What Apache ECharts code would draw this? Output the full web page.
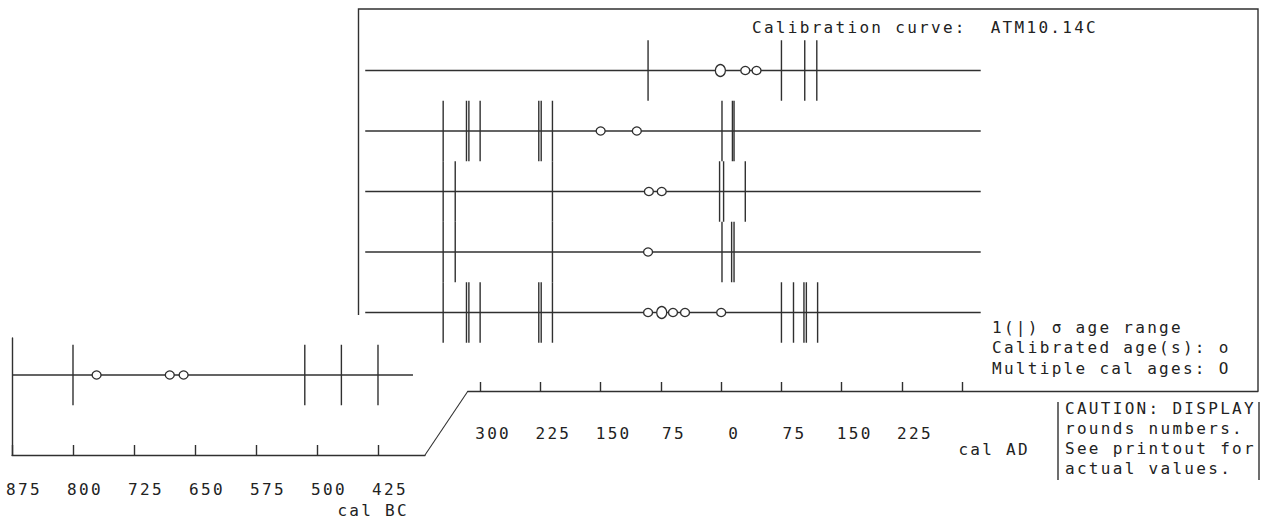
<!DOCTYPE html>
<html>
<head>
<meta charset="utf-8">
<style>
  html, body { margin: 0; padding: 0; background: #ffffff; }
  #chart { width: 1262px; height: 520px; }
  /* plotter-style wide character pitch */
  #chart text { letter-spacing: 2.3px; white-space: pre; }
</style>
<script src="https://cdn.jsdelivr.net/npm/echarts@6/dist/echarts.min.js"></script>
</head>
<body>
<div id="chart"></div>
<script>
// Sample labels: five rows on the main scale (top to bottom) and one older sample
const mainSamples = ['1034', '7463', '7462', '7461', '7460'];
const oldSample = '1035';

// Boundaries of the 1-sigma calibrated age ranges (signed years, BC negative)
const ranges1034 = [-91, 75, 104, 119];
const ranges7463 = [-346, -317, -314, -300, -227, -224, -210, 1, 14, 16];
const ranges7462 = [-346, -331, -210, -2, 3, 30];
const ranges7461 = [-346, -331, -210, 1, 13, 16];
const ranges7460 = [-346, -317, -314, -300, -227, -224, -210, 75, 90, 103, 106, 120];
const ranges1035 = [-800, -515, -470, -425];

// Calibrated ages (curve intercepts)
const ages1034 = [30, 44];
const ages7463 = [-150, -105];
const ages7462 = [-90, -74];
const ages7461 = [-91];
const ages7460 = [-91, -60, -45, 0];
const ages1035 = [-771, -681, -664];

// Multiple calibrated ages at one point
const multi1034 = [-1];
const multi7460 = [-74];

// Tick positions (signed years)
const mainTicks = [-300, -225, -150, -75, 0, 75, 150, 225, 300];
const mainTickLabels = [-300, -225, -150, -75, 0, 75, 150, 225];
const oldTicks = [-875, -800, -725, -650, -575, -500, -425];

// Text blocks
const titleText = 'Calibration curve:  ATM10.14C';
const legendLines = ['1(|) \u03c3 age range', 'Calibrated age(s): o', 'Multiple cal ages: O'];
const cautionLines = ['CAUTION: DISPLAY', 'rounds numbers.', 'See printout for', 'actual values.'];
const mainAxisName = 'cal AD';
const oldAxisName = 'cal BC';

// ---- drawing style and layout ----
const INK = '#303030';
const LW = 1.4;
const FONT = '16px "DejaVu Sans Mono", monospace';
const HALF = 0.5;                 // half height of a range mark, in row units
const mainSpan = [-443, 323];     // extent of each main sample line
const oldSpan = [-875, -382];     // extent of the older sample line

const allRanges = [ranges1034, ranges7463, ranges7462, ranges7461, ranges7460];
const allAges = [ages1034, ages7463, ages7462, ages7461, ages7460];
const allMulti = [multi1034, [], [], [], multi7460];

const mainMarks = [];
allRanges.forEach((arr, r) => arr.forEach(v => mainMarks.push([v, r])));
const mainAgePts = [];
allAges.forEach((arr, r) => arr.forEach(v => mainAgePts.push([v, r])));
const mainMultiPts = [];
allMulti.forEach((arr, r) => arr.forEach(v => mainMultiPts.push([v, r])));
const mainLines = mainSamples.map((s, r) => ({ name: s, value: [mainSpan[0], mainSpan[1], r] }));

const oldMarks = ranges1035.map(v => [v, 0]);
const oldAgePts = ages1035.map(v => [v, 0]);
const oldLines = [{ name: oldSample, value: [oldSpan[0], oldSpan[1], 0] }];

function renderMark(params, api) {
  const x = api.value(0), r = api.value(1);
  const a = api.coord([x, r - HALF]);
  const b = api.coord([x, r + HALF]);
  return {
    type: 'line',
    shape: { x1: a[0], y1: a[1], x2: b[0], y2: b[1] },
    style: { stroke: INK, lineWidth: LW }
  };
}

function makeLineRenderer(labelGap) {
  return function (params, api) {
    const r = api.value(2);
    const a = api.coord([api.value(0), r]);
    const b = api.coord([api.value(1), r]);
    const name = params.data ? params.data.name : '';
    return {
      type: 'group',
      children: [
        { type: 'line', shape: { x1: a[0], y1: a[1], x2: b[0], y2: b[1] },
          style: { stroke: INK, lineWidth: LW } },
        { type: 'text', x: b[0] + labelGap, y: a[1] - 2,
          style: { text: name, fill: '#222', font: FONT, align: 'left', verticalAlign: 'middle',
                   textAlign: 'left', textVerticalAlign: 'middle' } }
      ]
    };
  };
}

function circleSeries(data, xi, size) {
  return {
    type: 'scatter', xAxisIndex: xi, yAxisIndex: xi, data: data,
    symbol: 'circle', symbolSize: size, z: 5, silent: true,
    itemStyle: { color: '#ffffff', borderColor: INK, borderWidth: 1.3, opacity: 1 }
  };
}

function textEl(str, x, y, align) {
  return {
    type: 'text', x: x, y: y, silent: true,
    style: { text: str, fill: '#222', font: FONT,
             align: align || 'left', verticalAlign: 'middle',
             textAlign: align || 'left', textVerticalAlign: 'middle' }
  };
}

const absLabel = v => String(Math.abs(Math.round(v)));

const graphics = [
  // frame around the main panel (its bottom side is the axis line)
  { type: 'polyline', silent: true,
    shape: { points: [[358.5, 315], [358.5, 9], [1258, 9], [1258, 391]] },
    style: { stroke: INK, lineWidth: LW, fill: null } },
  // link between the two axes
  { type: 'line', silent: true, shape: { x1: 425, y1: 455, x2: 468, y2: 391 },
    style: { stroke: INK, lineWidth: 1.1 } },
  // caution note brackets
  { type: 'line', silent: true, shape: { x1: 1058, y1: 402, x2: 1058, y2: 480 },
    style: { stroke: INK, lineWidth: LW } },
  { type: 'line', silent: true, shape: { x1: 1259, y1: 402, x2: 1259, y2: 480 },
    style: { stroke: INK, lineWidth: LW } },
  textEl(titleText, 752, 27),
  textEl(mainAxisName, 1030, 449, 'right'),
  textEl(oldAxisName, 409, 510.5, 'right')
];
legendLines.forEach((s, i) => graphics.push(textEl(s, 992, 327 + i * 20.5)));
cautionLines.forEach((s, i) => graphics.push(textEl(s, 1065, 408 + i * 20)));

const axisTextStyle = { color: '#222', fontFamily: '"DejaVu Sans Mono", monospace', fontSize: 16 };

const option = {
  animation: false,
  backgroundColor: '#ffffff',
  grid: [
    { left: 468, top: 9, width: 790, height: 382 },
    { left: 12, top: 338, width: 413, height: 117 }
  ],
  xAxis: [
    {
      gridIndex: 0, type: 'value', min: -315.1, max: 668.1,
      axisLine: { show: true, onZero: false, lineStyle: { color: INK, width: LW } },
      axisTick: { show: true, inside: true, length: 9, customValues: mainTicks,
                  lineStyle: { color: INK, width: LW } },
      axisLabel: Object.assign({ customValues: mainTickLabels, formatter: absLabel,
                  margin: 34, padding: [0, 0, 0, 26] }, axisTextStyle),
      splitLine: { show: false }
    },
    {
      gridIndex: 1, type: 'value', min: -875, max: -367.2,
      axisLine: { show: true, onZero: false, lineStyle: { color: INK, width: LW } },
      axisTick: { show: true, inside: true, length: 10, customValues: oldTicks,
                  lineStyle: { color: INK, width: LW } },
      axisLabel: Object.assign({ customValues: oldTicks, formatter: absLabel,
                  margin: 26, padding: [0, 0, 0, 24] }, axisTextStyle),
      splitLine: { show: false }
    }
  ],
  yAxis: [
    { gridIndex: 0, type: 'value', inverse: true, min: -1.0165, max: 5.2975, show: false },
    {
      gridIndex: 1, type: 'value', inverse: true, min: -0.6116, max: 1.322,
      axisLine: { show: true, onZero: false, lineStyle: { color: INK, width: LW } },
      axisTick: { show: false }, axisLabel: { show: false }, splitLine: { show: false }
    }
  ],
  graphic: graphics,
  series: [
    { type: 'custom', xAxisIndex: 0, yAxisIndex: 0, data: mainLines, clip: false, silent: true,
      renderItem: makeLineRenderer(73), z: 2 },
    { type: 'custom', xAxisIndex: 0, yAxisIndex: 0, data: mainMarks, clip: false, silent: true,
      renderItem: renderMark, z: 3 },
    circleSeries(mainAgePts, 0, [9, 8]),
    circleSeries(mainMultiPts, 0, [10, 12]),
    { type: 'custom', xAxisIndex: 1, yAxisIndex: 1, data: oldLines, clip: false, silent: true,
      renderItem: makeLineRenderer(7), z: 2 },
    { type: 'custom', xAxisIndex: 1, yAxisIndex: 1, data: oldMarks, clip: false, silent: true,
      renderItem: renderMark, z: 3 },
    circleSeries(oldAgePts, 1, [9, 8])
  ]
};

const chart = echarts.init(document.getElementById('chart'), null, { renderer: 'svg' });
chart.setOption(option);
</script>
</body>
</html>
